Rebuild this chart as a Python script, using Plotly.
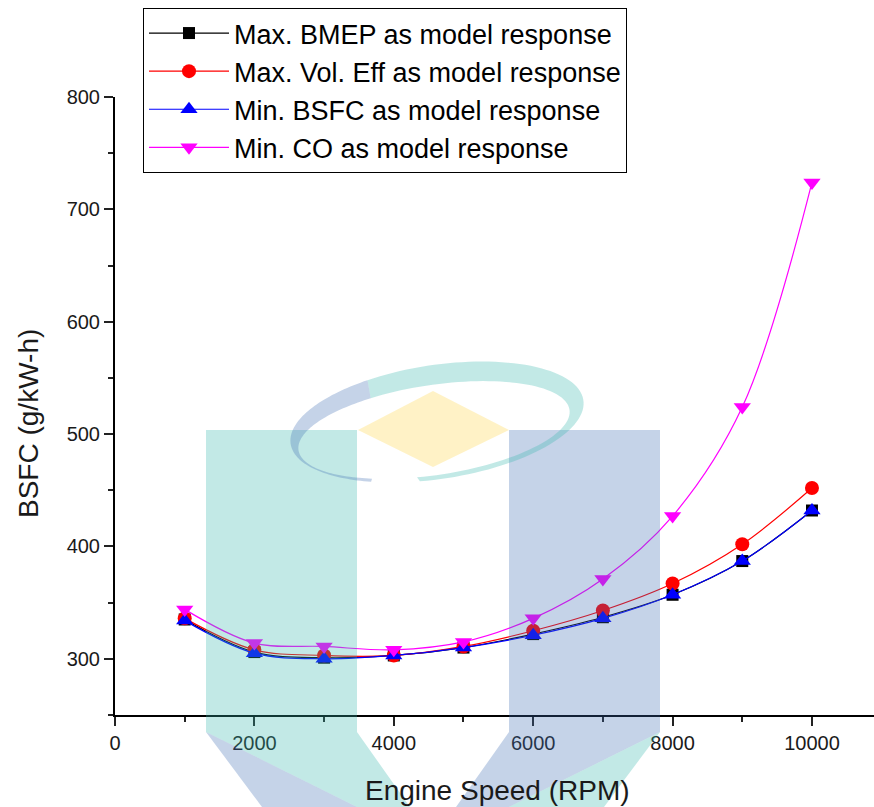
import numpy as np
import plotly.graph_objects as go

# Engine speed (RPM) and BSFC (g/kW-h) for each optimisation target
speed = [1000, 2000, 3000, 4000, 5000, 6000, 7000, 8000, 9000, 10000]
bsfc_max_bmep = [335, 306, 301, 303, 310, 322, 337, 357, 387, 432]
bsfc_max_vol_eff = [336, 308, 303, 303, 311, 325, 343, 367, 402, 452]
bsfc_min_bsfc = [334, 305, 300, 303, 310, 321, 336, 357, 387, 432]
bsfc_min_co = [344, 314, 311, 308, 315, 336, 371, 427, 524, 724]

series_names = [
    "Max. BMEP as model response",
    "Max. Vol. Eff as model response",
    "Min. BSFC as model response",
    "Min. CO as model response",
]
series_values = [bsfc_max_bmep, bsfc_max_vol_eff, bsfc_min_bsfc, bsfc_min_co]
series_colors = ["#000000", "#ff0000", "#0000ff", "#ff00ff"]
series_symbols = ["square", "circle", "triangle-up", "triangle-down"]
series_sizes = [12, 14, 15, 15]

W, H = 874, 807
L, R, T, B = 115, 0, 97, 92
FONT = "Arial, Liberation Sans, sans-serif"

fig = go.Figure()
for name, vals, col, sym, sz in zip(series_names, series_values, series_colors,
                                    series_symbols, series_sizes):
    fig.add_trace(go.Scatter(
        x=speed, y=vals, name=name, mode="lines+markers",
        line=dict(color=col, width=1.2, shape="spline", smoothing=1.0),
        marker=dict(symbol=sym, size=sz, color=col),
    ))


# background logo, laid over the plot as translucent shapes (pixel -> paper)
def px(x):
    return (x - L) / (W - L - R)


def py(y):
    return (H - B - y) / (H - T - B)


def poly(points):
    return "M " + " L ".join(f"{px(x):.5f},{py(y):.5f}" for x, y in points) + " Z"


TEAL = "rgba(52,182,172,0.30)"
BLUE = "rgba(62,108,178,0.30)"
GOLD = "rgba(255,212,65,0.30)"

logo = [
    (poly([(206, 430), (357, 430), (357, 732), (410, 807), (357, 807), (206, 732)]), TEAL),
    (poly([(206, 732), (357, 807), (262, 807)]), BLUE),
    (poly([(509, 430), (660, 430), (660, 732), (509, 807), (456, 807), (509, 732)]), BLUE),
    (poly([(660, 732), (604, 807), (509, 807)]), TEAL),
    (poly([(433, 391), (509, 430), (433, 467), (358, 430)]), GOLD),
]


def ring(t0, t1):
    rot = np.deg2rad(8.5)
    t = np.deg2rad(np.linspace(t0, t1, 80))

    def ell(cx, cy, rx, ry, tt):
        ex, ey = rx * np.cos(tt), -ry * np.sin(tt)
        return (cx + ex * np.cos(rot) + ey * np.sin(rot),
                cy - ex * np.sin(rot) + ey * np.cos(rot))

    ox, oy = ell(437, 422, 148, 57, t)
    ix, iy = ell(434, 430, 137, 45, t[::-1])
    return poly(list(zip(np.r_[ox, ix], np.r_[oy, iy])))


logo.append((ring(-100, 115), TEAL))
logo.append((ring(115, 240), BLUE))

shapes = [dict(type="path", path=p, xref="paper", yref="paper", fillcolor=c,
               line=dict(width=0), layer="above") for p, c in logo]

axis_common = dict(
    showline=True, linecolor="#000000", linewidth=2, mirror=False,
    showgrid=False, zeroline=False,
    ticks="outside", ticklen=9, tickwidth=2, tickcolor="#222222",
    tickfont=dict(family=FONT, size=20, color="#1a1a1a"),
    tickformat="d",
)

fig.update_layout(
    width=W, height=H,
    margin=dict(l=L, r=R, t=T, b=B),
    paper_bgcolor="white", plot_bgcolor="white",
    font=dict(family=FONT, color="#000000"),
    xaxis=dict(range=[0, 10890], tickmode="linear", tick0=0, dtick=2000,
               minor=dict(dtick=1000, ticks="outside", ticklen=5, tickwidth=2,
                          tickcolor="#222222"),
               **axis_common),
    yaxis=dict(range=[250, 800], tickmode="linear", tick0=0, dtick=100,
               minor=dict(dtick=50, ticks="outside", ticklen=5, tickwidth=2,
                          tickcolor="#222222"),
               **axis_common),
    legend=dict(x=px(143), y=py(8), xanchor="left", yanchor="top",
                bgcolor="white", bordercolor="#000000", borderwidth=1,
                font=dict(family=FONT, size=27, color="#000000"),
                itemwidth=80, tracegroupgap=0),
    shapes=shapes,
    annotations=[
        dict(text="Engine Speed (RPM)", xref="paper", yref="paper",
             x=px(497), y=py(790), xanchor="center", yanchor="middle",
             showarrow=False,
             font=dict(family=FONT, size=28, color="#1a1a1a")),
        dict(text="BSFC (g/kW-h)", xref="paper", yref="paper",
             x=px(28), y=py(424), xanchor="center", yanchor="middle",
             showarrow=False, textangle=-90,
             font=dict(family=FONT, size=28, color="#1a1a1a")),
    ],
)

fig.write_html("out.html")
